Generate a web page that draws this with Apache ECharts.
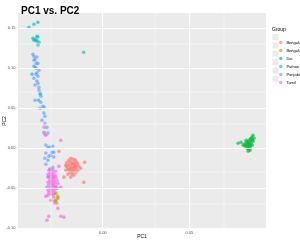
<!DOCTYPE html>
<html>
<head>
<meta charset="utf-8">
<script src="https://cdn.jsdelivr.net/npm/echarts@6/dist/echarts.min.js"></script>
<style>
  html, body { margin: 0; padding: 0; background: #fff; }
  #chart { width: 300px; height: 242px; }
</style>
</head>
<body>
<div id="chart"></div>
<script>
// tick values
var xTicks = [0, 0.05];
var xMinor = [-0.025, 0.025, 0.075];
var yTicks = [-0.1, -0.05, 0, 0.05, 0.1, 0.15];
var yMinor = [-0.075, -0.025, 0.025, 0.075, 0.125];

var groups = ["Bengali", "Bengali_2", "Dai", "Pathan", "Punjabi", "Tamil"];
var colors = ["#F8766D", "#B79F00", "#00BA38", "#00BFC4", "#619CFF", "#F564E3"];

// [PC1, PC2] per group
var bengali = [
  [-0.0184, -0.0125], [-0.0170, -0.0140], [-0.0196, -0.0152], [-0.0158, -0.0148],
  [-0.0207, -0.0178], [-0.0186, -0.0170], [-0.0165, -0.0182], [-0.0150, -0.0172],
  [-0.0196, -0.0203], [-0.0176, -0.0198], [-0.0161, -0.0208], [-0.0144, -0.0196],
  [-0.0209, -0.0228], [-0.0190, -0.0222], [-0.0171, -0.0230], [-0.0155, -0.0220],
  [-0.0138, -0.0226], [-0.0201, -0.0252], [-0.0182, -0.0246], [-0.0167, -0.0255],
  [-0.0150, -0.0248], [-0.0213, -0.0276], [-0.0196, -0.0270], [-0.0178, -0.0280],
  [-0.0161, -0.0272], [-0.0144, -0.0278], [-0.0190, -0.0302], [-0.0173, -0.0296],
  [-0.0155, -0.0305], [-0.0201, -0.0325], [-0.0178, -0.0322], [-0.0167, -0.0338],
  [-0.0184, -0.0362], [-0.0224, -0.0362], [-0.0104, -0.0175], [-0.0109, -0.0425],
  [-0.0253, -0.0038], [-0.0127, -0.0250], [-0.0213, -0.0212], [-0.0175, -0.0188],
  [-0.0160, -0.0235], [-0.0188, -0.0262]
];
var bengali2 = [
  [-0.0282, -0.0575], [-0.0270, -0.0562], [-0.0259, -0.0600], [-0.0270, -0.0650],
  [-0.0276, -0.0662], [-0.0265, -0.0688], [-0.0259, -0.0625]
];
var dai = [
  [0.0868, 0.0162], [0.0863, 0.0138], [0.0874, 0.0125], [0.0851, 0.0112],
  [0.0863, 0.0100], [0.0840, 0.0088], [0.0851, 0.0088], [0.0868, 0.0088],
  [0.0828, 0.0075], [0.0845, 0.0062], [0.0857, 0.0062], [0.0817, 0.0050],
  [0.0834, 0.0050], [0.0851, 0.0038], [0.0863, 0.0038], [0.0822, 0.0025],
  [0.0840, 0.0025], [0.0851, 0.0012], [0.0834, 0.0000], [0.0845, -0.0012],
  [0.0840, -0.0038], [0.0851, -0.0025], [0.0782, 0.0062], [0.0799, 0.0075],
  [0.0811, 0.0038], [0.0828, 0.0100], [0.0857, 0.0125], [0.0837, 0.0068],
  [0.0846, 0.0040], [0.0830, 0.0030]
];
var pathan = [
  [-0.0426, 0.1510], [-0.0397, 0.1550], [-0.0374, 0.1575], [-0.0403, 0.1375],
  [-0.0390, 0.1360], [-0.0385, 0.1350], [-0.0380, 0.1340], [-0.0397, 0.1350],
  [-0.0374, 0.1390], [-0.0374, 0.1290], [-0.0368, 0.1325], [-0.0110, 0.1200],
  [-0.0408, 0.0925], [-0.0360, 0.0675], [-0.0370, 0.0600], [-0.0380, 0.1400]
];
var punjabi = [
  [-0.0403, 0.1175], [-0.0397, 0.1150], [-0.0391, 0.1110], [-0.0397, 0.1100],
  [-0.0385, 0.1060], [-0.0374, 0.1060], [-0.0391, 0.1010], [-0.0397, 0.1025],
  [-0.0380, 0.0940], [-0.0385, 0.0925], [-0.0374, 0.0900], [-0.0397, 0.0875],
  [-0.0380, 0.0840], [-0.0374, 0.0810], [-0.0391, 0.0790], [-0.0368, 0.0760],
  [-0.0368, 0.0725], [-0.0362, 0.0690], [-0.0391, 0.0600], [-0.0357, 0.0575],
  [-0.0345, 0.0525], [-0.0362, 0.0500], [-0.0339, 0.0510], [-0.0339, 0.0440],
  [-0.0351, 0.0350], [-0.0334, 0.0310], [-0.0322, 0.0260], [-0.0339, 0.0200],
  [-0.0316, 0.0190], [-0.0328, 0.0040], [-0.0316, 0.0010], [-0.0305, 0.0010],
  [-0.0282, -0.0050], [-0.0328, -0.0060], [-0.0299, -0.0090], [-0.0316, -0.0150],
  [-0.0328, -0.0200], [-0.0288, -0.0240], [-0.0305, -0.0260], [-0.0316, -0.0360],
  [-0.0334, -0.0125], [-0.0311, -0.0100], [-0.0293, -0.0050], [-0.0288, 0.0025],
  [-0.0282, -0.0110], [-0.0380, 0.1140], [-0.0385, 0.1000], [-0.0368, 0.0975],
  [-0.0357, 0.0650], [-0.0334, 0.0400], [-0.0322, -0.0490]
];
var tamil = [
  [-0.0311, -0.0275], [-0.0299, -0.0262], [-0.0288, -0.0275], [-0.0305, -0.0300],
  [-0.0293, -0.0312], [-0.0282, -0.0300], [-0.0316, -0.0325], [-0.0299, -0.0338],
  [-0.0288, -0.0350], [-0.0276, -0.0338], [-0.0311, -0.0362], [-0.0293, -0.0375],
  [-0.0282, -0.0375], [-0.0270, -0.0362], [-0.0305, -0.0400], [-0.0293, -0.0412],
  [-0.0282, -0.0412], [-0.0265, -0.0400], [-0.0316, -0.0425], [-0.0299, -0.0438],
  [-0.0288, -0.0450], [-0.0276, -0.0438], [-0.0259, -0.0438], [-0.0311, -0.0462],
  [-0.0293, -0.0475], [-0.0282, -0.0475], [-0.0270, -0.0475], [-0.0305, -0.0500],
  [-0.0288, -0.0512], [-0.0276, -0.0512], [-0.0265, -0.0500], [-0.0316, -0.0525],
  [-0.0299, -0.0538], [-0.0282, -0.0550], [-0.0293, -0.0575], [-0.0311, -0.0562],
  [-0.0334, 0.0175], [-0.0242, 0.0100], [-0.0339, 0.0262], [-0.0328, 0.0162],
  [-0.0253, -0.0225], [-0.0242, -0.0488], [-0.0316, -0.0588], [-0.0282, -0.0612],
  [-0.0299, -0.0650], [-0.0259, -0.0750], [-0.0276, -0.0688], [-0.0311, -0.0850],
  [-0.0322, -0.0900], [-0.0242, -0.0850], [-0.0224, -0.0862], [-0.0328, -0.0600],
  [-0.0270, -0.0288]
];
var groupData = [bengali, bengali2, dai, pathan, punjabi, tamil];

var chart = echarts.init(document.getElementById("chart"));

function gridLines() {
  var d = [];
  xTicks.forEach(function (v) { d.push({ xAxis: v, lineStyle: { width: 0.9 } }); });
  xMinor.forEach(function (v) { d.push({ xAxis: v, lineStyle: { width: 0.45 } }); });
  yTicks.forEach(function (v) { d.push({ yAxis: v, lineStyle: { width: 0.9 } }); });
  yMinor.forEach(function (v) { d.push({ yAxis: v, lineStyle: { width: 0.45 } }); });
  return d;
}

var series = [{
  type: "scatter",
  data: [],
  silent: true,
  z: 1,
  markLine: {
    silent: true,
    symbol: "none",
    animation: false,
    label: { show: false },
    lineStyle: { color: "#fff", type: "solid" },
    data: gridLines()
  }
}];
groups.forEach(function (g, i) {
  series.push({
    name: g,
    type: "scatter",
    data: groupData[i],
    symbol: "circle",
    symbolSize: 3.6,
    z: 3,
    itemStyle: { color: colors[i], opacity: 0.65 }
  });
});

var keyRects = groups.map(function (g, i) {
  return {
    type: "rect",
    shape: { x: 272.5, y: 34 + i * 8.4, width: 6, height: 6 },
    style: { fill: "#EBEBEB" },
    z: 0
  };
});

chart.setOption({
  animation: false,
  title: {
    text: "PC1 vs. PC2",
    left: 16,
    top: 1,
    textStyle: { fontSize: 10, fontWeight: "bold", color: "#000", fontFamily: "Liberation Sans" }
  },
  grid: {
    left: 18, right: 34, top: 13, bottom: 13,
    outerBoundsMode: "none",
    containLabel: false,
    show: true, backgroundColor: "#EBEBEB", borderWidth: 0
  },
  legend: {
    orient: "vertical",
    left: 274,
    top: 35.5,
    icon: "circle",
    itemWidth: 3.4,
    itemHeight: 3.4,
    itemGap: 4,
    data: groups,
    textStyle: { fontSize: 4, color: "#000", fontFamily: "Liberation Sans", padding: [0, 0, 0, -1] }
  },
  graphic: [{
    type: "text",
    left: 272,
    top: 27.5,
    style: { text: "Group", fontSize: 5, fill: "#000", fontFamily: "Liberation Sans" }
  }].concat(keyRects),
  xAxis: {
    type: "value",
    min: -0.0489,
    max: 0.0943,
    name: "PC1",
    nameLocation: "middle",
    nameGap: 5.5,
    nameMoveOverlap: false,
    nameTextStyle: { fontSize: 5, color: "#000", fontFamily: "Liberation Sans" },
    axisLine: { show: false },
    splitLine: { show: false },
    axisTick: { show: true, length: 1.5, customValues: xTicks, lineStyle: { color: "#333", width: 0.5 } },
    axisLabel: {
      customValues: xTicks,
      fontSize: 4, color: "#4D4D4D", margin: 2, fontFamily: "Liberation Sans",
      formatter: function (v) { return v.toFixed(2); }
    }
  },
  yAxis: {
    type: "value",
    min: -0.101,
    max: 0.169,
    name: "PC2",
    nameLocation: "middle",
    nameGap: 11,
    nameMoveOverlap: false,
    nameRotate: 90,
    nameTextStyle: { fontSize: 5, color: "#000", fontFamily: "Liberation Sans" },
    axisLine: { show: false },
    splitLine: { show: false },
    axisTick: { show: true, length: 1.5, customValues: yTicks, lineStyle: { color: "#333", width: 0.5 } },
    axisLabel: {
      customValues: yTicks,
      fontSize: 4, color: "#4D4D4D", margin: 2.5, fontFamily: "Liberation Sans",
      formatter: function (v) { return v.toFixed(2); }
    }
  },
  series: series
});
</script>
</body>
</html>
